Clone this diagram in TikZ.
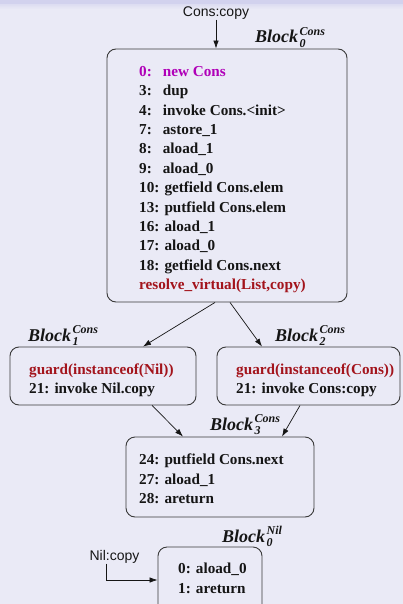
\documentclass[tikz,border=0pt]{standalone}
\usepackage{fontspec}
\setmainfont{Liberation Serif}
\setsansfont{Liberation Sans}
\usetikzlibrary{arrows.meta,calc}
\definecolor{bg}{HTML}{EAEAF6}
\definecolor{topbar}{HTML}{D2D2EE}
\definecolor{mag}{HTML}{B000B8}
\definecolor{dred}{HTML}{A3141C}
\definecolor{ink}{HTML}{151515}
\definecolor{frame}{HTML}{3A3A3A}
\newcommand\opl[2]{\makebox[23.7pt][l]{#1}#2}
\newcommand\scr[1]{{\fontsize{12}{12}\selectfont\bfseries\itshape #1}}
\newcommand\blab[2]{Block\kern1.5pt\rlap{\raisebox{7.5pt}{\scr{#2}}}\raisebox{-4.5pt}{\scr{#1}}}
\begin{document}
\begin{tikzpicture}[x=1pt,y=-1pt,
  blk/.style={draw=frame, line width=0.9pt, rounded corners=9pt, inner sep=0pt},
  code/.style={anchor=north west, align=left, inner sep=0pt, font=\fontsize{15.2}{19.4}\selectfont\bfseries, text=ink},
  lbl/.style={anchor=base west, inner sep=0pt, font=\fontsize{18}{20}\selectfont\bfseries\itshape, text=ink},
  arr/.style={draw=ink, line width=0.7pt, -{Latex[length=8pt,width=5.5pt]}},
  call/.style={font=\sffamily\fontsize{14}{16}\selectfont, inner sep=0pt, text=ink}]
\clip (0,0) rectangle (403,604);
\fill[bg] (0,0) rectangle (403,604);
\shade[top color=topbar, bottom color=bg] (0,0) rectangle (403,9);
\fill[topbar] (0,0) rectangle (403,4);

% boxes
\node[blk, minimum width=240pt, minimum height=253pt] (b0) at (227,175.5) {};
\node[blk, minimum width=186pt, minimum height=58pt] (b1) at (103,376) {};
\node[blk, minimum width=183pt, minimum height=58pt] (b2) at (308.5,376) {};
\node[blk, minimum width=188pt, minimum height=80pt] (b3) at (220,477) {};
\node[blk, minimum width=104pt, minimum height=66pt] (bn) at (210,580) {};

% code
\node[code] (t0) at (139,66) {%
  \textcolor{mag}{\opl{0:}{new Cons}}\\
  \opl{3:}{dup}\\
  \opl{4:}{invoke Cons.<init>}\\
  \opl{7:}{astore\_1}\\
  \opl{8:}{aload\_1}\\
  \opl{9:}{aload\_0}\\
  10: getfield Cons.elem\\
  13: putfield Cons.elem\\
  16: aload\_1\\
  17: aload\_0\\
  18: getfield Cons.next\\
  \textcolor{dred}{resolve\_virtual(List,copy)}};
\node[code] (t1) at (29,363.6) {\textcolor{dred}{guard(instanceof(Nil))}\\21: invoke Nil.copy};
\node[code] (t2) at (236,363.6) {\textcolor{dred}{guard(instanceof(Cons))}\\21: invoke Cons:copy};
\node[code] (t3) at (139,454) {24: putfield Cons.next\\27: aload\_1\\28: areturn};
\node[code] (tn) at (178,563) {0: aload\_0\\1: areturn};

% labels
\node[lbl] (l0) at (255,43) {\blab{0}{Cons}};
\node[lbl] (l1) at (28,341) {\blab{1}{Cons}};
\node[lbl] (l2) at (275,341) {\blab{2}{Cons}};
\node[lbl] (l3) at (210,430) {\blab{3}{Cons}};
\node[lbl] (ln) at (222,542) {\blab{0}{Nil}};

% entry points
\node[call] (cc) at (216,13) {Cons:copy};
\node[call] (nc) at (114.5,557) {Nil:copy};

% connectors
\draw[arr] (cc.south) -- (cc.south |- b0.north);
\draw[arr] ([xshift=-8.5pt]nc.south) |- (bn.west);
\draw[arr] ([xshift=-12pt]b0.south) -- ([xshift=40pt]b1.north);
\draw[arr] ([xshift=3pt]b0.south) -- ([xshift=-46.5pt]b2.north);
\draw[arr] ([xshift=49pt]b1.south) -- ([xshift=-37pt]b3.north);
\draw[arr] ([xshift=-8.5pt]b2.south) -- ([xshift=62pt]b3.north);
\end{tikzpicture}
\end{document}
